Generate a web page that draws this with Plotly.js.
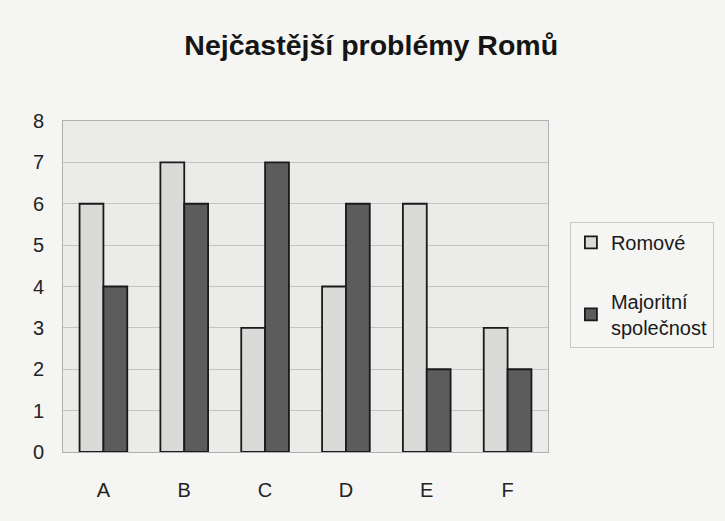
<!DOCTYPE html>
<html>
<head>
<meta charset="utf-8">
<script src="https://cdn.plot.ly/plotly-3.0.1.min.js"></script>
<style>html,body{margin:0;padding:0;background:#f5f5f3;}#chart{width:725px;height:521px;}</style>
</head>
<body>
<div id="chart"></div>
<script>
const categories = ["A", "B", "C", "D", "E", "F"];
const romove = [6, 7, 3, 4, 6, 3];
const majorita = [4, 6, 7, 6, 2, 2];
const seriesNames = ["Romové", "Majoritní<br>společnost"];

const traces = [
  {type: "bar", x: categories, y: romove, name: seriesNames[0], legendgroup: "g1",
   marker: {color: "#dadad8", line: {color: "#1a1a1a", width: 1.8}}},
  {type: "bar", x: categories, y: majorita, name: seriesNames[1], legendgroup: "g2",
   marker: {color: "#5c5c5c", line: {color: "#1a1a1a", width: 1.8}}}
];

const layout = {
  width: 725, height: 521,
  paper_bgcolor: "#f5f5f3",
  plot_bgcolor: "#ebebe9",
  margin: {l: 63, r: 176, t: 121, b: 69},
  title: {text: "<b>Nejčastější problémy Romů</b>", x: 0.512, xanchor: "center", y: 0.914, yanchor: "middle",
          font: {family: "Liberation Sans, Arial, sans-serif", size: 28.5, color: "#151515"}},
  font: {family: "Liberation Sans, Arial, sans-serif", size: 20, color: "#222"},
  bargap: 0.41, bargroupgap: 0,
  barmode: "group",
  xaxis: {showgrid: false, showline: true, linecolor: "#b0b0b0", linewidth: 1, ticks: "", tickfont: {size: 20},
          mirror: true, ticklabelstandoff: 20},
  yaxis: {range: [0, 8], dtick: 1, showgrid: true, gridcolor: "#c4c4c2", gridwidth: 1,
          showline: true, linecolor: "#b0b0b0", linewidth: 1, mirror: true, ticks: "", ticklen: 0,
          tickfont: {size: 20}, zeroline: false, ticklabelstandoff: 14},
  showlegend: true,
  legend: {x: 1.043, xanchor: "left", y: 0.695, yanchor: "top", bgcolor: "rgba(0,0,0,0)",
           bordercolor: "#c8c8c8", borderwidth: 1, tracegroupgap: 30,
           font: {size: 20, color: "#1a1a1a"}, itemwidth: 30, traceorder: "grouped"}
};

Plotly.newPlot("chart", traces, layout, {displayModeBar: false});
</script>
</body>
</html>
